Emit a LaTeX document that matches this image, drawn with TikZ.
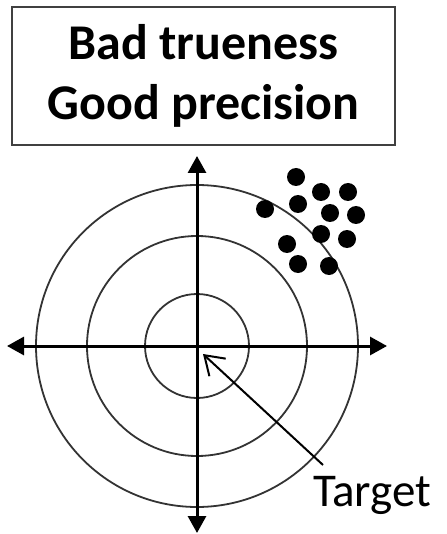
\documentclass[tikz,border=0pt]{standalone}
\usepackage{fontspec}
\setmainfont{Carlito}
\usetikzlibrary{arrows.meta,positioning}

\begin{document}
\begin{tikzpicture}[x=1pt,y=-1pt,
  axis/.style={line width=3pt,{Triangle[length=17pt,width=18pt]}-{Triangle[length=17pt,width=18pt]}},
  ring/.style={draw=black!80,line width=1.8pt},
  dot/.style={circle,fill=black,inner sep=0pt,minimum size=18pt}]
\useasboundingbox (0,0) rectangle (446,534);
\node[draw=black!75,line width=1.8pt,minimum width=383pt,minimum height=138pt,align=center,
  font=\fontsize{50}{60}\selectfont\bfseries] (title) at (203.5,76) {Bad trueness\\Good precision};
% target rings
\coordinate (o) at (197,346);
\foreach \r in {52,110,161}
  \draw[ring] (o) circle[radius=\r pt];
% axes
\coordinate (left) at (7,346);
\coordinate (right) at (387,346);
\coordinate (top) at (197,156);
\coordinate (bottom) at (197,533);
\draw[axis] (left) -- (right);
\draw[axis] (top) -- (bottom);
% hits
\foreach \x/\y [count=\i] in {296/177,321/192,348/192,298/204,265/209,330/213,
  356/215,321/234,347/239,287/244,298/264,329/266}
  \node[dot] (d\i) at (\x,\y) {};
% label
\node[font=\fontsize{47}{56}\selectfont,anchor=base west,inner sep=0pt] (lbl) at (313,506) {Target};
\coordinate (tail) at (323,465);
\coordinate (tip) at (203,354);
\draw[line width=2pt,-{Straight Barb[length=18pt,width=24pt]}] (tail) -- (tip);
\end{tikzpicture}
\end{document}
